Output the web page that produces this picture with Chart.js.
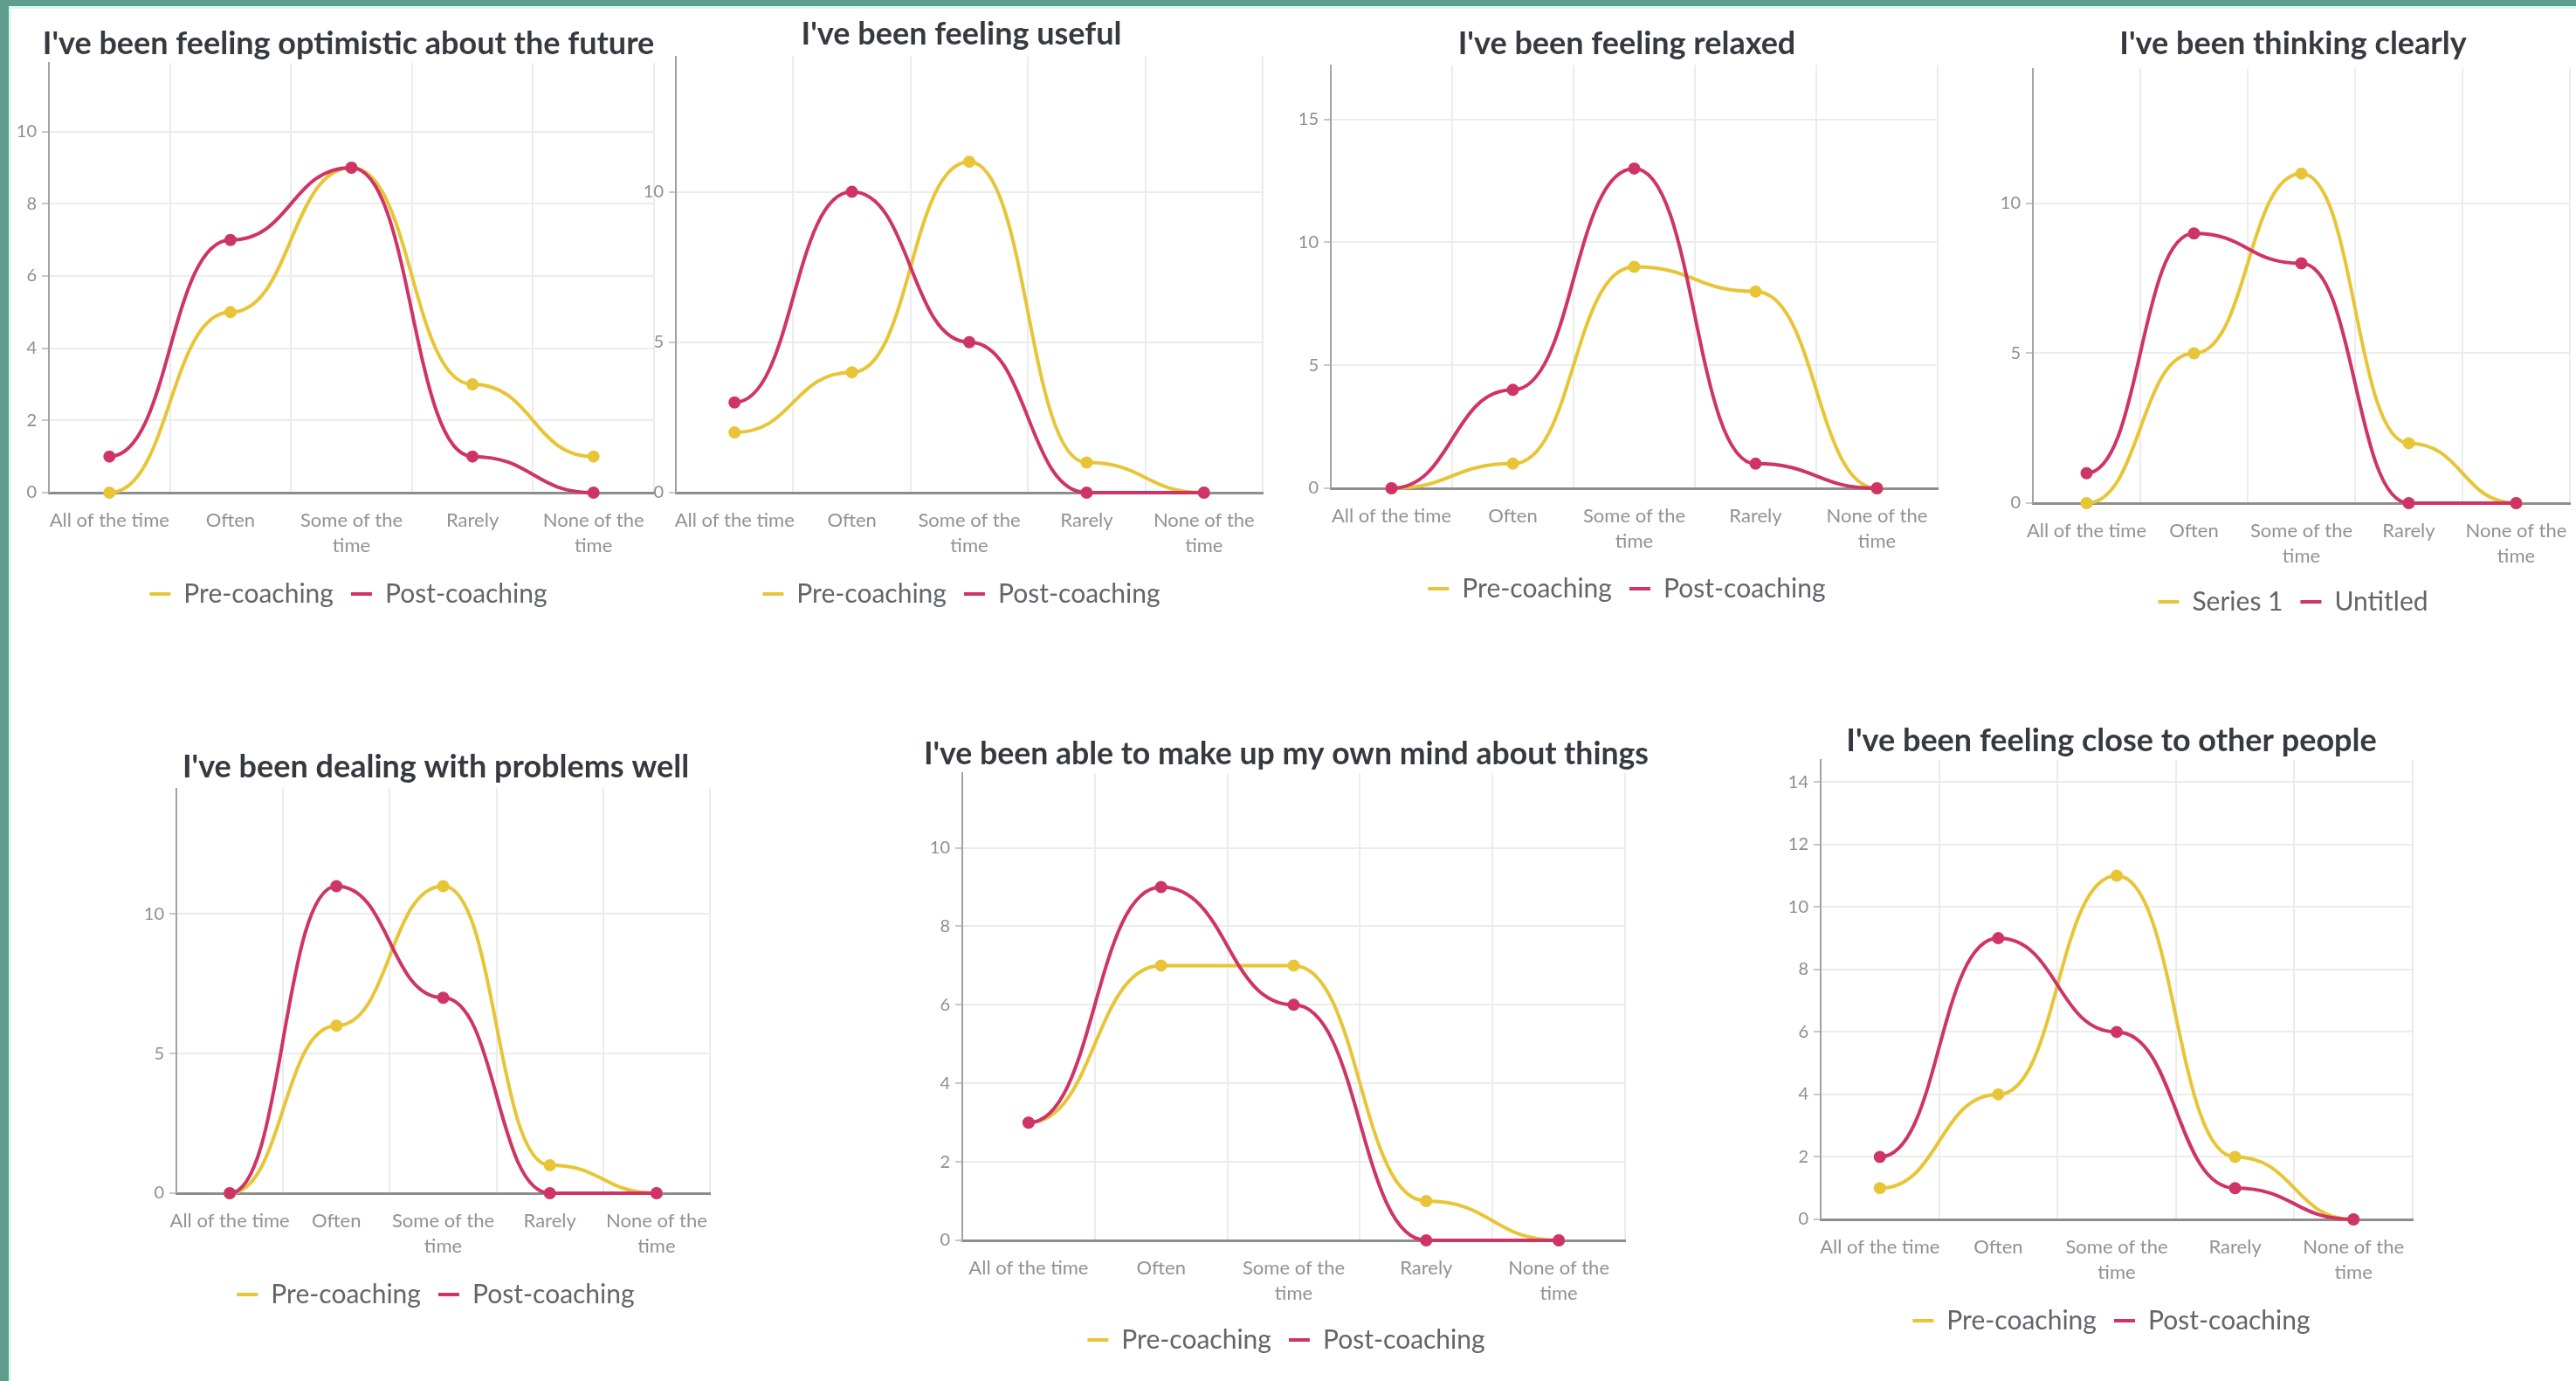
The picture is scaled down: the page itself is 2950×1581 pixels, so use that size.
<!DOCTYPE html>
<html>
<head>
<meta charset="utf-8">
<script src="https://cdn.jsdelivr.net/npm/chart.js@4.4.1/dist/chart.umd.min.js"></script>
<style>
  html, body { margin: 0; padding: 0; background: #fff; }
  #page { position: relative; width: 2950px; height: 1581px; overflow: hidden; background: #fff; }
  .edge { position: absolute; background: #5f9e8e; }
  .shine { position: absolute; background: #dcf6f2; }
  .box { position: absolute; }
</style>
</head>
<body>
<div id="page">
  <div class="edge" style="left:0;top:0;width:10px;height:1581px"></div>
  <div class="edge" style="left:0;top:0;width:2950px;height:7px"></div>
  <div class="shine" style="left:10px;top:7px;width:3px;height:1574px"></div>
  <div class="shine" style="left:10px;top:7px;width:2940px;height:3px"></div>
</div>
<script>
// categories shared by every panel
const categories = ['All of the time', 'Often', ['Some of the', 'time'], 'Rarely', ['None of the', 'time']];

const titles = [
  "I've been feeling optimistic about the future",
  "I've been feeling useful",
  "I've been feeling relaxed",
  "I've been thinking clearly",
  "I've been dealing with problems well",
  "I've been able to make up my own mind about things",
  "I've been feeling close to other people"
];

const seriesNames = [
  ['Pre-coaching', 'Post-coaching'],
  ['Pre-coaching', 'Post-coaching'],
  ['Pre-coaching', 'Post-coaching'],
  ['Series 1', 'Untitled'],
  ['Pre-coaching', 'Post-coaching'],
  ['Pre-coaching', 'Post-coaching'],
  ['Pre-coaching', 'Post-coaching']
];

// values per panel
const optimisticPre  = [0, 5, 9, 3, 1];
const optimisticPost = [1, 7, 9, 1, 0];
const usefulPre      = [2, 4, 11, 1, 0];
const usefulPost     = [3, 10, 5, 0, 0];
const relaxedPre     = [0, 1, 9, 8, 0];
const relaxedPost    = [0, 4, 13, 1, 0];
const clearlyPre     = [0, 5, 11, 2, 0];
const clearlyPost    = [1, 9, 8, 0, 0];
const problemsPre    = [0, 6, 11, 1, 0];
const problemsPost   = [0, 11, 7, 0, 0];
const mindPre        = [3, 7, 7, 1, 0];
const mindPost       = [3, 9, 6, 0, 0];
const closePre       = [1, 4, 11, 2, 0];
const closePost      = [2, 9, 6, 1, 0];

const preValues  = [optimisticPre, usefulPre, relaxedPre, clearlyPre, problemsPre, mindPre, closePre];
const postValues = [optimisticPost, usefulPost, relaxedPost, clearlyPost, problemsPost, mindPost, closePost];

// y axis range and tick step per panel
const yMax  = [11.9, 14.5, 17.2, 14.5, 14.5, 11.9, 14.7];
const yStep = [2, 5, 5, 5, 5, 2, 2];

// where each panel sits on the page (plot box, title line, legend line, centre)
const layouts = [
  { L: 56,   T: 72,  R: 749,  B: 564,  titleY: 47,  legendY: 681,  cx: 399 },
  { L: 774,  T: 65,  R: 1446, B: 564,  titleY: 36,  legendY: 681,  cx: 1101 },
  { L: 1524, T: 75,  R: 2219, B: 559,  titleY: 47,  legendY: 675,  cx: 1863 },
  { L: 2328, T: 79,  R: 2943, B: 576,  titleY: 47,  legendY: 690,  cx: 2626 },
  { L: 202,  T: 903, R: 813,  B: 1366, titleY: 875, legendY: 1483, cx: 499 },
  { L: 1102, T: 882, R: 1861, B: 1420, titleY: 860, legendY: 1535, cx: 1473 },
  { L: 2085, T: 868, R: 2763, B: 1396, titleY: 845, legendY: 1513, cx: 2418 }
];

const YELLOW = '#e8c537';
const RED = '#cf3468';
const FONT = "Lato, 'Open Sans', sans-serif";
const HANDLE = 0.5; // horizontal bezier handles, as a share of the gap to the neighbour

// smooth curve: flat handles at every point, computed from the scaled point positions
const flatHandles = {
  id: 'flatHandles',
  beforeDatasetDraw(chart, args) {
    const meta = args.meta;
    meta.dataset.updateControlPoints(chart.chartArea, meta.iScale.axis);
    const pts = meta.data;
    for (let j = 0; j < pts.length; j++) {
      const p = pts[j];
      const dxPrev = j > 0 ? p.x - pts[j - 1].x : 0;
      const dxNext = j < pts.length - 1 ? pts[j + 1].x - p.x : 0;
      p.cp1x = p.x - dxPrev * HANDLE;
      p.cp1y = p.y;
      p.cp2x = p.x + dxNext * HANDLE;
      p.cp2y = p.y;
    }
  }
};

const page = document.getElementById('page');

function makeChart(i) {
  const lay = layouts[i];
  const yw = 44;
  const left = lay.L - yw;
  const width = Math.round(2 * (lay.cx - left));
  const top = lay.titleY - 17.6;
  const bottom = lay.legendY + 24;
  const height = Math.round(bottom - top);
  const padRight = width - (lay.R - left);

  const wrap = document.createElement('div');
  wrap.className = 'box';
  wrap.style.left = left + 'px';
  wrap.style.top = top + 'px';
  wrap.style.width = width + 'px';
  wrap.style.height = height + 'px';
  const cv = document.createElement('canvas');
  cv.width = width;
  cv.height = height;
  wrap.appendChild(cv);
  page.appendChild(wrap);

  const line = (label, data, color, order) => ({
    label,
    data,
    order,
    borderColor: color,
    backgroundColor: color,
    pointBackgroundColor: color,
    pointBorderColor: color,
    borderWidth: 4,
    pointRadius: 5,
    tension: 0.4,
    clip: false
  });

  new Chart(cv, {
    type: 'line',
    data: {
      labels: categories,
      datasets: [
        line(seriesNames[i][0], preValues[i], YELLOW, 1),
        line(seriesNames[i][1], postValues[i], RED, 0)
      ]
    },
    plugins: [flatHandles],
    options: {
      responsive: false,
      animation: false,
      events: [],
      plugins: {
        title: {
          display: true,
          text: titles[i],
          color: '#363a40',
          font: { family: FONT, size: 36, weight: 'bold', lineHeight: 1.2 },
          padding: { top: 0, bottom: Math.max(0, lay.T - top - 43.2) }
        },
        legend: {
          position: 'bottom',
          labels: {
            usePointStyle: true,
            pointStyle: 'line',
            pointStyleWidth: 24,
            padding: 20,
            color: '#62656a',
            font: { family: FONT, size: 30 },
            sort: (a, b) => a.datasetIndex - b.datasetIndex
          }
        },
        tooltip: { enabled: false }
      },
      scales: {
        x: {
          offset: true,
          grid: { offset: true, color: '#ececec', lineWidth: 2, drawTicks: false },
          border: { color: '#8d8d8d', width: 3 },
          ticks: {
            autoSkip: false,
            maxRotation: 0,
            padding: 18,
            color: '#929292',
            font: { family: FONT, size: 22, lineHeight: 1.3 }
          },
          afterFit: s => { s.height = bottom - 60 - lay.B; }
        },
        y: {
          min: 0,
          max: yMax[i],
          grid: { color: '#ececec', lineWidth: 2, tickLength: 8, tickColor: '#c8c8c8' },
          border: { color: '#a2a2a2', width: 2 },
          ticks: {
            stepSize: yStep[i],
            includeBounds: false,
            padding: 6,
            color: '#8e8e8e',
            font: { family: FONT, size: 20 }
          },
          afterFit: s => { s.width = yw; }
        },
        // empty right-hand spacer so the plot ends where the reference does
        spacer: {
          type: 'linear',
          position: 'right',
          grid: { display: false, drawTicks: false },
          border: { display: false },
          ticks: { display: false },
          afterFit: s => { s.width = padRight; }
        }
      }
    }
  });
}

for (let i = 0; i < titles.length; i++) makeChart(i);
</script>
</body>
</html>
